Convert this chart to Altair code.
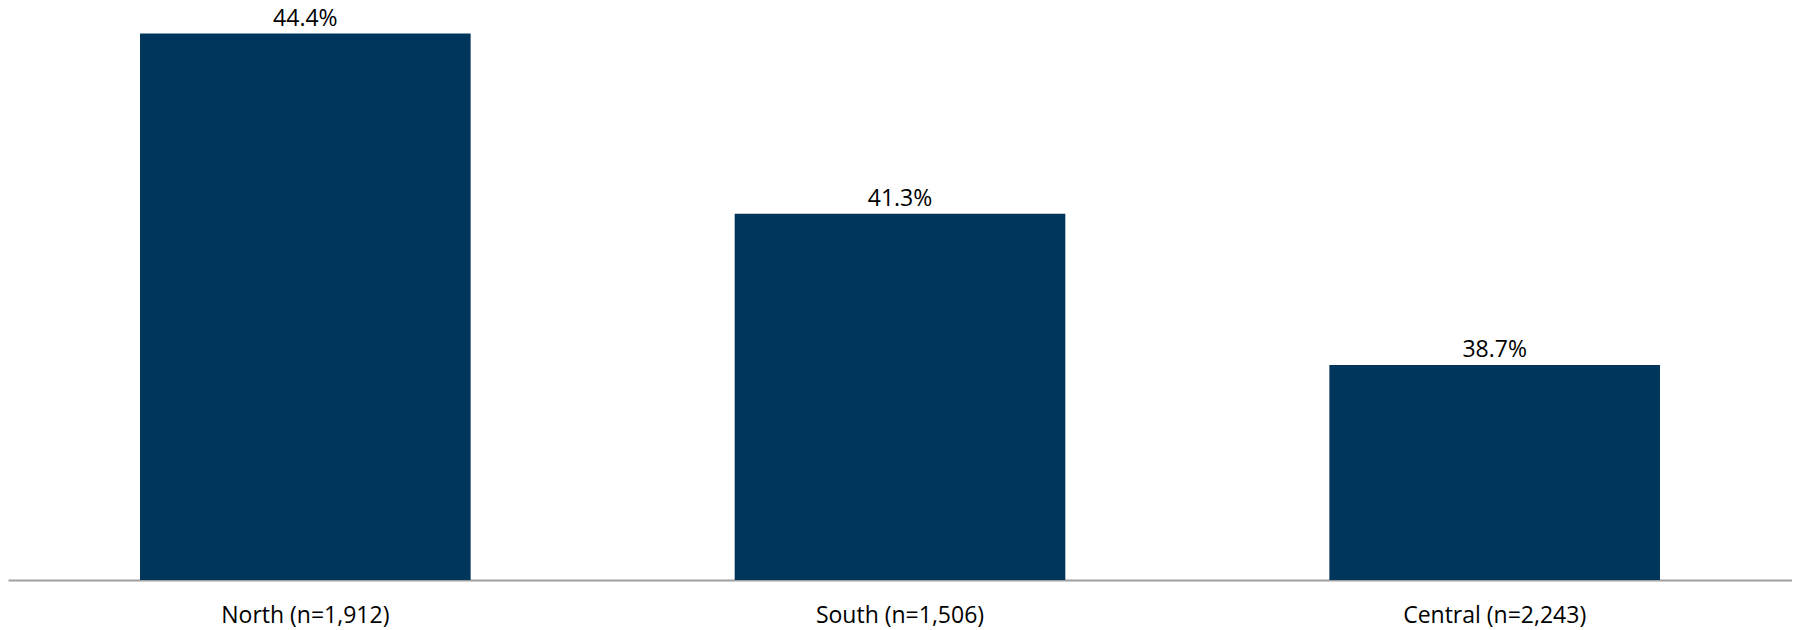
import altair as alt
import pandas as pd

categories = ["North (n=1,912)", "South (n=1,506)", "Central (n=2,243)"]
values = [44.4, 41.3, 38.7]
labels = ["44.4%", "41.3%", "38.7%"]

df = pd.DataFrame({"cat": categories, "val": values, "lab": labels})

FONT = "Open Sans"
x = alt.X("cat:N", sort=categories, title=None,
          scale=alt.Scale(paddingInner=0.444, paddingOuter=0.222),
          axis=alt.Axis(labelAngle=0, labelFont=FONT, labelFontSize=23, labelColor="#000000",
                        labelBaseline="alphabetic", labelPadding=42, labelLimit=0, ticks=False, tickSize=0,
                        domainColor="#a0a0a0", domainWidth=2, grid=False))
y = alt.Y("val:Q", title=None, scale=alt.Scale(domain=[35, 44.84], zero=False, nice=False),
          axis=None)

bars = alt.Chart(df).mark_bar(color="#00355C").encode(x=x, y=y, y2=alt.datum(35))
text = alt.Chart(df).mark_text(font=FONT, fontSize=23, color="#000000", baseline="alphabetic", dy=-8).encode(
    x=x, y=y, text="lab:N")

chart = alt.layer(bars, text).properties(
    width=1784, height=572,
    padding={"left": 0, "top": 0, "right": 0, "bottom": 54},
    autosize=alt.AutoSizeParams(type="none"),
).configure_view(stroke="#ffffff", strokeOpacity=0, strokeWidth=0, fill="#ffffff").configure_axis(grid=False)

chart.save("out.html", embed_options={"renderer": "svg", "actions": False})
